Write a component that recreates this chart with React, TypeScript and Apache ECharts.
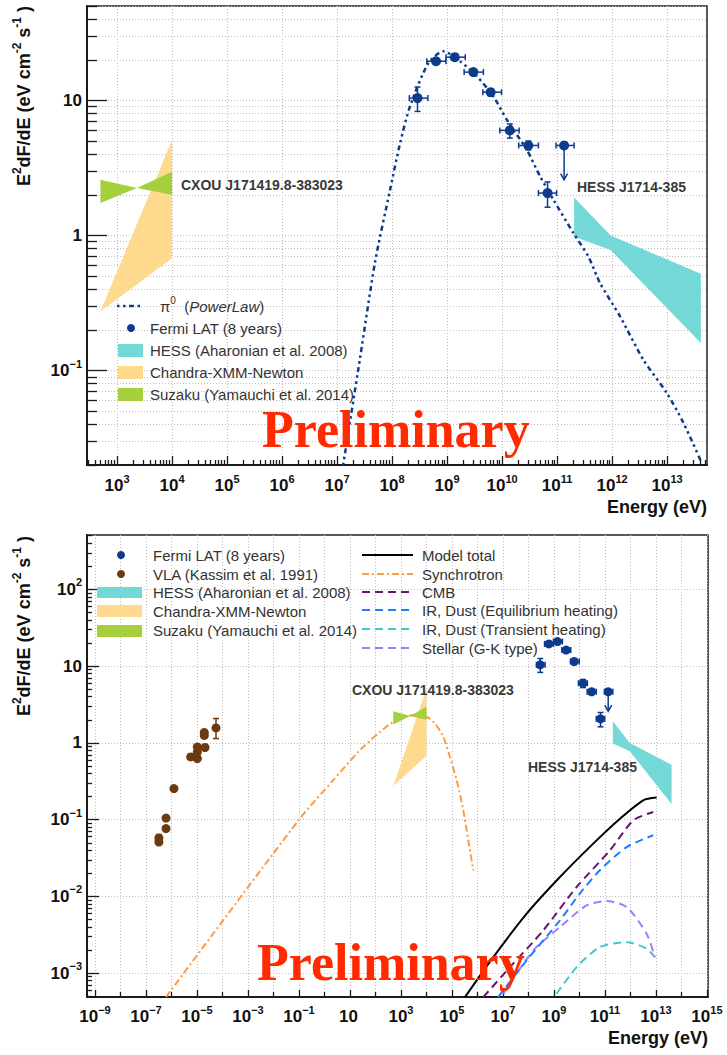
import React, { useEffect, useRef } from 'react';
import * as echarts from 'echarts';

const FONT = '"Liberation Sans", Arial, Helvetica, sans-serif';
const SERIF = '"Liberation Serif", "Times New Roman", serif';

// ---------- axis ranges (E in eV, E^2dF/dE in eV cm^-2 s^-1) ----------
const topXRange = [285, 5.3e13];
const topYRange = [0.02, 50];
const botXRange = [4.85e-10, 1.1e15];
const botYRange = [4.9e-4, 511];

// ---------- tick decades ----------
const topXDecades = [3, 4, 5, 6, 7, 8, 9, 10, 11, 12, 13];
const topXMinorDecades = [2, 3, 4, 5, 6, 7, 8, 9, 10, 11, 12, 13];
const topYDecades = [-1, 0, 1];
const topYMinorDecades = [-2, -1, 0, 1];
const botXLabelDecades = [-9, -7, -5, -3, -1, 1, 3, 5, 7, 9, 11, 13, 15];
const botXOtherDecades = [-8, -6, -4, -2, 0, 2, 4, 6, 8, 10, 12, 14];
const botYDecades = [-3, -2, -1, 0, 1, 2];
const botYMinorDecades = [-4, -3, -2, -1, 0, 1, 2];
const minorMultipliers = [2, 3, 4, 5, 6, 7, 8, 9];

// ---------- Fermi LAT (8 years) ----------
const fermiE = [2.9e8, 6.3e8, 1.38e9, 3.0e9, 6.2e9, 1.38e10, 3.0e10, 6.7e10];
const fermiF = [10.4, 19.5, 20.9, 16.2, 11.5, 6.0, 4.64, 2.06];
const fermiElo = [2.06e8, 4.27e8, 9.55e8, 2.04e9, 4.47e9, 9.1e9, 2.0e10, 4.57e10];
const fermiEhi = [4.47e8, 9.55e8, 2.14e9, 4.57e9, 9.77e9, 2.04e10, 4.57e10, 9.77e10];
const fermiFlo = [8.29, 18.6, 20.0, 15.4, 10.8, 5.26, 4.3, 1.62];
const fermiFhi = [12.56, 20.4, 21.8, 17.0, 12.2, 6.7, 5.0, 2.49];
// upper limit
const ulE = [1.34e11];
const ulElo = [9.55e10];
const ulEhi = [2.04e11];
const ulF = [4.64];
const ulArrowTo = [2.59];

// ---------- pi0 (PowerLaw) model ----------
const pionE = [1.29e7, 2.62e7, 4.91e7, 9.2e7, 1.4e8, 2.12e8, 4.57e8, 8.57e8, 1.72e9, 3.47e9, 6.95e9, 1.22e10,
  2.81e10, 4.9e10, 8.57e10, 1.98e11, 3.7e11, 6.03e11, 1.4e12, 3.7e12, 9.9e12, 1.98e13, 4.27e13];
const pionF = [0.02, 0.124, 0.638, 2.18, 4.83, 9.04, 18.9, 23.1, 19.5, 15.1, 10.7, 7.19,
  4.31, 2.74, 1.84, 1.04, 0.698, 0.444, 0.251, 0.12, 0.068, 0.041, 0.0206];

// ---------- HESS band ----------
const hessE = [2.04e11, 9.4e11, 4.1e13];
const hessHi = [1.91, 1.0, 0.52];
const hessLo = [0.98, 0.78, 0.16];

// ---------- Chandra-XMM-Newton band (polygon vertices) ----------
const chandraE = [500, 1e4, 1e4];
const chandraF = [0.274, 5.1, 0.68];

// ---------- Suzaku butterfly (polygon vertices) ----------
const suzakuE = [500, 2300, 1e4, 1e4, 2300, 500];
const suzakuF = [2.59, 2.25, 2.96, 2.0, 2.25, 1.74];

// ---------- VLA (Kassim et al. 1991) ----------
const vlaE = [3.2e-7, 3.2e-7, 6.1e-7, 6.1e-7, 1.25e-6, 5.66e-6, 1.03e-5, 1.03e-5, 1.03e-5, 2.06e-5, 1.93e-5, 1.93e-5, 5.56e-5];
const vlaF = [0.0577, 0.0512, 0.105, 0.0766, 0.254, 0.656, 0.627, 0.764, 0.887, 0.871, 1.37, 1.25, 1.57];
const vlaErrE = [5.56e-5, 3.2e-7];
const vlaErrF = [1.57, 0.0577];
const vlaErrLo = [1.14, 0.052];
const vlaErrHi = [2.08, 0.064];

// ---------- leptonic model curves ----------
const syncE = [6.1e-7, 0.1, 2.2, 24.7, 150, 500, 2630, 1.02e4, 2.15e4, 4.56e4, 8.35e4, 1.53e5, 2.77e5, 4.36e5, 6.84e5];
const syncF = [4.9e-4, 0.1, 0.327, 0.805, 1.39, 1.88, 2.3, 2.18, 1.79, 1.2, 0.657, 0.327, 0.133, 0.054, 0.0219];
const totalE = [3.24e5, 4.17e6, 8.5e7, 1.72e9, 3.47e10, 3.87e11, 3.18e12, 1.06e13];
const totalF = [4.88e-4, 1.62e-3, 5.97e-3, 0.0179, 0.0488, 0.103, 0.179, 0.194];
const cmbE = [1.69e6, 1.88e7, 3.8e8, 7.76e9, 1.57e11, 1.29e12, 7.83e12];
const cmbF = [4.88e-4, 1.2e-3, 3.61e-3, 0.0133, 0.0399, 0.098, 0.126];
const irEqE = [6.5e6, 8.5e7, 1.72e9, 1.05e10, 6.3e10, 7.1e11, 7.83e12];
const irEqF = [4.88e-4, 1.47e-3, 4.88e-3, 0.011, 0.0219, 0.044, 0.0627];
const stellarE = [1.03e7, 1.54e8, 1.72e9, 1.91e10, 1.17e11, 7.1e11, 4.3e12, 9.1e12];
const stellarF = [5.4e-4, 1.98e-3, 3.99e-3, 7.65e-3, 8.7e-3, 7.27e-3, 3.27e-3, 1.62e-3];
const irTrE = [1.26e9, 7.76e9, 6.3e10, 7.1e11, 4.3e12, 9.1e12];
const irTrF = [5.4e-4, 1.2e-3, 2.19e-3, 2.54e-3, 2.09e-3, 1.62e-3];

// ---------- colours ----------
const NAVY = '#0e3a8e';
const BROWN = '#6b3a10';
const HESS_C = '#74d9d6';
const CHANDRA_C = '#fdda8e';
const SUZAKU_C = '#a6cf3c';
const ORANGE = '#ff9a45';
const PURPLE = '#64146e';
const BLUE = '#1f7bff';
const CYAN = '#3ccaca';
const VIOLET = '#a47bff';
const AX = '#1a1a1a';
const TXT = '#333333';

const lg = Math.log10;
const minorVals = (decs: number[]) => decs.flatMap((d) => minorMultipliers.map((m) => d + lg(m)));

const sup = (e: number) => (e < 0 ? '\u2212' + -e : String(e));
const fmtLabel = (v: number) => {
  const e = Math.round(v);
  if (e === 0) return '{b|1}';
  if (e === 1) return '{b|10}';
  return '{b|10}{s|' + sup(e) + '}';
};
const fmtLabelX = (v: number) => {
  const e = Math.round(v);
  if (e === 1) return '{b|10}{s|\u00a0}';
  return fmtLabel(v);
};
const RICH = {
  b: { fontSize: 17, fontWeight: 'bold', color: '#111', fontFamily: FONT },
  s: { fontSize: 11, fontWeight: 'bold', color: '#111', fontFamily: FONT, padding: [0, 0, 14, 0] },
};
const GRIDLINE = { color: '#bdbdbd', type: [1, 2], width: 1 };

function axis(o: any) {
  return {
    type: 'value',
    gridIndex: o.grid,
    position: o.pos,
    min: lg(o.range[0]),
    max: lg(o.range[1]),
    axisLine: { show: !!o.line, onZero: false, lineStyle: { color: AX, width: 2 } },
    axisTick: {
      show: true,
      inside: true,
      length: o.tickLen,
      customValues: o.ticks,
      lineStyle: { color: AX, width: 1.3 },
    },
    axisLabel: o.labels
      ? { show: true, customValues: o.labels, formatter: o.fmt, rich: RICH, margin: o.margin }
      : { show: false },
    splitLine: { show: !!o.split, lineStyle: GRIDLINE },
    minorTick: { show: false },
    minorSplitLine: { show: false },
  };
}

function polySeries(ai: number, E: number[], F: number[], color: string, z: number) {
  const verts = E.map((e, i) => [lg(e), lg(F[i])]);
  return {
    type: 'custom',
    xAxisIndex: ai,
    yAxisIndex: ai,
    z,
    silent: true,
    clip: true,
    dimensions: ['x', 'y'],
    encode: { x: 0, y: 1 },
    data: verts,
    renderItem: (params: any, api: any) => {
      if (params.dataIndex !== 0) return { type: 'group', children: [] };
      const pts = verts.map((v) => api.coord(v));
      return { type: 'polygon', shape: { points: pts }, style: { fill: color, stroke: 'none' } };
    },
  };
}

function bandVerts(E: number[], hi: number[], lo: number[]) {
  const e = [...E, ...E.slice().reverse()];
  const f = [...hi, ...lo.slice().reverse()];
  return [e, f];
}

function lineSeries(ai: number, E: number[], F: number[], color: string, width: number, dash: any, z: number) {
  return {
    type: 'line',
    xAxisIndex: ai,
    yAxisIndex: ai,
    z,
    silent: true,
    showSymbol: false,
    symbol: 'none',
    smooth: 0.25,
    clip: true,
    data: E.map((e, i) => [lg(e), lg(F[i])]),
    lineStyle: { color, width, type: dash },
  };
}

function errSeries(ai: number, E: number[], F: number[], Elo: number[], Ehi: number[], Flo: number[], Fhi: number[], color: string, cap: number, z: number) {
  return {
    type: 'custom',
    xAxisIndex: ai,
    yAxisIndex: ai,
    z,
    silent: true,
    clip: true,
    dimensions: ['x', 'y', 'xlo', 'xhi', 'ylo', 'yhi'],
    encode: { x: 0, y: 1 },
    data: E.map((e, i) => [lg(e), lg(F[i]), lg(Elo[i]), lg(Ehi[i]), lg(Flo[i]), lg(Fhi[i])]),
    renderItem: (params: any, api: any) => {
      const c = api.coord([api.value(0), api.value(1)]);
      const xl = api.coord([api.value(2), api.value(1)])[0];
      const xh = api.coord([api.value(3), api.value(1)])[0];
      const yl = api.coord([api.value(0), api.value(4)])[1];
      const yh = api.coord([api.value(0), api.value(5)])[1];
      const st = { stroke: color, lineWidth: 1.5 };
      const ch: any[] = [];
      if (Math.abs(xh - xl) > 0.5) {
        ch.push({ type: 'line', shape: { x1: xl, y1: c[1], x2: xh, y2: c[1] }, style: st });
        ch.push({ type: 'line', shape: { x1: xl, y1: c[1] - cap, x2: xl, y2: c[1] + cap }, style: st });
        ch.push({ type: 'line', shape: { x1: xh, y1: c[1] - cap, x2: xh, y2: c[1] + cap }, style: st });
      }
      if (Math.abs(yh - yl) > 0.5) {
        ch.push({ type: 'line', shape: { x1: c[0], y1: yl, x2: c[0], y2: yh }, style: st });
        ch.push({ type: 'line', shape: { x1: c[0] - cap, y1: yl, x2: c[0] + cap, y2: yl }, style: st });
        ch.push({ type: 'line', shape: { x1: c[0] - cap, y1: yh, x2: c[0] + cap, y2: yh }, style: st });
      }
      return { type: 'group', children: ch };
    },
  };
}

function ulSeries(ai: number, cap: number, z: number) {
  return {
    type: 'custom',
    xAxisIndex: ai,
    yAxisIndex: ai,
    z,
    silent: true,
    clip: true,
    dimensions: ['x', 'y', 'xlo', 'xhi', 'yto'],
    encode: { x: 0, y: 1 },
    data: ulE.map((e, i) => [lg(e), lg(ulF[i]), lg(ulElo[i]), lg(ulEhi[i]), lg(ulArrowTo[i])]),
    renderItem: (params: any, api: any) => {
      const c = api.coord([api.value(0), api.value(1)]);
      const xl = api.coord([api.value(2), api.value(1)])[0];
      const xh = api.coord([api.value(3), api.value(1)])[0];
      const yt = api.coord([api.value(0), api.value(4)])[1];
      const st = { stroke: NAVY, lineWidth: 1.5, fill: 'none' };
      return {
        type: 'group',
        children: [
          { type: 'line', shape: { x1: xl, y1: c[1], x2: xh, y2: c[1] }, style: st },
          { type: 'line', shape: { x1: xl, y1: c[1] - cap, x2: xl, y2: c[1] + cap }, style: st },
          { type: 'line', shape: { x1: xh, y1: c[1] - cap, x2: xh, y2: c[1] + cap }, style: st },
          { type: 'line', shape: { x1: c[0], y1: c[1], x2: c[0], y2: yt }, style: st },
          { type: 'polyline', shape: { points: [[c[0] - 3.5, yt - 6], [c[0], yt], [c[0] + 3.5, yt - 6]] }, style: st },
        ],
      };
    },
  };
}

function scatterSeries(ai: number, E: number[], F: number[], color: string, size: number, z: number) {
  return {
    type: 'scatter',
    xAxisIndex: ai,
    yAxisIndex: ai,
    z,
    silent: true,
    symbol: 'circle',
    symbolSize: size,
    data: E.map((e, i) => [lg(e), lg(F[i])]),
    itemStyle: { color, opacity: 1 },
  };
}

// ---------- graphic helpers ----------
const gText = (x: number, y: number, text: string, extra: any = {}) => ({
  type: 'text',
  x,
  y,
  silent: true,
  z: 100,
  style: {
    text,
    fill: TXT,
    fontSize: 15,
    fontFamily: FONT,
    align: 'left',
    verticalAlign: 'middle',
    ...extra,
  },
});
const gRect = (x: number, y: number, w: number, h: number, fill: string) => ({
  type: 'rect',
  silent: true,
  z: 100,
  shape: { x, y, width: w, height: h },
  style: { fill },
});
const gLine = (x1: number, x2: number, y: number, stroke: string, width: number, dash: any) => ({
  type: 'line',
  silent: true,
  z: 100,
  shape: { x1, y1: y, x2, y2: y },
  style: { stroke, lineWidth: width, lineDash: dash },
});
const gDot = (cx: number, cy: number, r: number, fill: string) => ({
  type: 'circle',
  silent: true,
  z: 100,
  shape: { cx, cy, r },
  style: { fill },
});

const yTitle = (y: number) => ({
  type: 'text',
  x: 24,
  y,
  rotation: Math.PI / 2,
  silent: true,
  z: 100,
  style: {
    text: '{a|E}{s|2}{a|dF/dE (eV cm}{s|-2}{a| s}{s|-1}{a| )}',
    align: 'right',
    verticalAlign: 'middle',
    rich: {
      a: { fontSize: 18, fontWeight: 'bold', fontFamily: FONT, fill: '#111', color: '#111' },
      s: { fontSize: 12, fontWeight: 'bold', fontFamily: FONT, fill: '#111', color: '#111', padding: [0, 0, 14, 0] },
    },
  },
});

const prelim = (x: number, y: number) =>
  gText(x, y, 'Preliminary', { fontSize: 52, fontWeight: 'bold', fontFamily: SERIF, fill: '#ff2a00' });

const DASH = [8, 5];
const DASHDOT = [7, 3, 2, 3];
const PIONDASH = [2.5, 3.5, 2.5, 3.5, 5, 3.5];

function buildOption() {
  const [hE, hF] = bandVerts(hessE, hessHi, hessLo);
  const graphic: any[] = [
    yTitle(6),
    yTitle(536),
    gText(707, 507, 'Energy (eV)', { align: 'right', fontSize: 18, fontWeight: 'bold', fill: '#111' }),
    gText(708, 1038, 'Energy (eV)', { align: 'right', fontSize: 18, fontWeight: 'bold', fill: '#111' }),
    prelim(262, 429),
    prelim(257, 962),
    // annotations
    gText(181, 185, 'CXOU J171419.8-383023', { fontSize: 14, fontWeight: 'bold', fill: '#3a3a3a' }),
    gText(577, 187, 'HESS J1714-385', { fontSize: 14, fontWeight: 'bold', fill: '#3a3a3a' }),
    gText(352, 690, 'CXOU J171419.8-383023', { fontSize: 14, fontWeight: 'bold', fill: '#3a3a3a' }),
    gText(528, 767, 'HESS J1714-385', { fontSize: 14, fontWeight: 'bold', fill: '#3a3a3a' }),
    // top legend
    gLine(117, 142, 306, NAVY, 2.5, PIONDASH),
    gText(160, 306, '{g|\u03c0}{s|0}{g|  (}{i|PowerLaw}{g|)}', {
      rich: {
        g: { fontSize: 15, fontFamily: FONT, fill: TXT, color: TXT },
        i: { fontSize: 15, fontFamily: FONT, fontStyle: 'italic', fill: TXT, color: TXT },
        s: { fontSize: 10, fontFamily: FONT, fill: TXT, color: TXT, padding: [0, 0, 12, 0] },
      },
    }),
    gDot(131, 328, 4, NAVY),
    gText(150, 328, 'Fermi LAT (8 years)'),
    gRect(118, 344, 25, 13, HESS_C),
    gText(150, 350, 'HESS (Aharonian et al. 2008)'),
    gRect(118, 366, 25, 13, CHANDRA_C),
    gText(150, 372, 'Chandra-XMM-Newton'),
    gRect(118, 388, 25, 13, SUZAKU_C),
    gText(150, 394, 'Suzaku (Yamauchi et al. 2014)'),
    // bottom legend, left column
    gDot(121, 555, 4, NAVY),
    gText(153, 555, 'Fermi LAT (8 years)'),
    gDot(121, 574, 4, BROWN),
    gText(153, 574, 'VLA (Kassim et al. 1991)'),
    gRect(97, 587, 45, 11, HESS_C),
    gText(153, 592, 'HESS (Aharonian et al. 2008)'),
    gRect(97, 605, 45, 12, CHANDRA_C),
    gText(153, 611, 'Chandra-XMM-Newton'),
    gRect(97, 625, 45, 12, SUZAKU_C),
    gText(153, 630, 'Suzaku (Yamauchi et al. 2014)'),
    // bottom legend, right column
    gLine(362, 413, 555, '#000', 2, null),
    gText(422, 555, 'Model total'),
    gLine(362, 413, 574, ORANGE, 2, DASHDOT),
    gText(422, 574, 'Synchrotron'),
    gLine(362, 413, 592, PURPLE, 2, DASH),
    gText(422, 592, 'CMB'),
    gLine(362, 413, 610, BLUE, 2, DASH),
    gText(422, 610, 'IR, Dust (Equilibrium heating)'),
    gLine(362, 413, 629, CYAN, 2, DASH),
    gText(422, 629, 'IR, Dust (Transient heating)'),
    gLine(362, 413, 648, VIOLET, 2, DASH),
    gText(422, 648, 'Stellar (G-K type)'),
  ];

  return {
    animation: false,
    backgroundColor: '#ffffff',
    textStyle: { fontFamily: FONT },
    grid: [
      { left: 87, top: 6, width: 620, height: 459, show: true, borderColor: '#222', borderWidth: 1.5, backgroundColor: 'transparent', containLabel: false, outerBoundsMode: 'none' },
      { left: 87, top: 535, width: 621, height: 462, show: true, borderColor: '#222', borderWidth: 1.5, backgroundColor: 'transparent', containLabel: false, outerBoundsMode: 'none' },
    ],
    xAxis: [
      axis({ grid: 0, pos: 'bottom', range: topXRange, line: true, tickLen: 9, ticks: topXDecades, labels: topXDecades, fmt: fmtLabelX, margin: 8, split: true }),
      axis({ grid: 0, pos: 'bottom', range: topXRange, tickLen: 5, ticks: minorVals(topXMinorDecades) }),
      axis({ grid: 1, pos: 'bottom', range: botXRange, line: true, tickLen: 7, ticks: botXLabelDecades, labels: botXLabelDecades, fmt: fmtLabelX, margin: 7, split: true }),
      axis({ grid: 1, pos: 'bottom', range: botXRange, tickLen: 5, ticks: botXOtherDecades, split: true }),
    ],
    yAxis: [
      axis({ grid: 0, pos: 'left', range: topYRange, line: true, tickLen: 20, ticks: topYDecades, labels: topYDecades, fmt: fmtLabel, margin: 5, split: true }),
      axis({ grid: 0, pos: 'left', range: topYRange, tickLen: 10, ticks: minorVals(topYMinorDecades), split: true }),
      axis({ grid: 1, pos: 'left', range: botYRange, line: true, tickLen: 12, ticks: botYDecades, labels: botYDecades, fmt: fmtLabel, margin: 5, split: true }),
      axis({ grid: 1, pos: 'left', range: botYRange, tickLen: 5, ticks: minorVals(botYMinorDecades) }),
    ],
    series: [
      // ----- top panel -----
      polySeries(0, chandraE, chandraF, CHANDRA_C, 2),
      polySeries(0, suzakuE, suzakuF, SUZAKU_C, 3),
      polySeries(0, hE, hF, HESS_C, 3),
      lineSeries(0, pionE, pionF, NAVY, 2.5, PIONDASH, 4),
      errSeries(0, fermiE, fermiF, fermiElo, fermiEhi, fermiFlo, fermiFhi, NAVY, 3, 5),
      ulSeries(0, 3, 5),
      scatterSeries(0, fermiE, fermiF, NAVY, 10, 6),
      scatterSeries(0, ulE, ulF, NAVY, 10, 6),
      // ----- bottom panel -----
      lineSeries(2, syncE, syncF, ORANGE, 2, DASHDOT, 2),
      polySeries(2, chandraE, chandraF, CHANDRA_C, 3),
      polySeries(2, suzakuE, suzakuF, SUZAKU_C, 3),
      polySeries(2, hE, hF, HESS_C, 3),
      lineSeries(2, irTrE, irTrF, CYAN, 2, DASH, 4),
      lineSeries(2, stellarE, stellarF, VIOLET, 2, DASH, 4),
      lineSeries(2, irEqE, irEqF, BLUE, 2, DASH, 4),
      lineSeries(2, cmbE, cmbF, PURPLE, 2, DASH, 4),
      lineSeries(2, totalE, totalF, '#000', 2, 'solid', 4),
      errSeries(2, vlaErrE, vlaErrF, vlaErrE, vlaErrE, vlaErrLo, vlaErrHi, BROWN, 3, 5),
      scatterSeries(2, vlaE, vlaF, BROWN, 9, 6),
      errSeries(2, fermiE, fermiF, fermiElo, fermiEhi, fermiFlo, fermiFhi, NAVY, 3, 5),
      ulSeries(2, 3, 5),
      scatterSeries(2, fermiE, fermiF, NAVY, 9, 6),
      scatterSeries(2, ulE, ulF, NAVY, 9, 6),
    ],
    graphic,
  };
}

export default function App() {
  const ref = useRef<HTMLDivElement>(null);
  useEffect(() => {
    const chart = echarts.init(ref.current as HTMLDivElement, null, { renderer: 'svg' });
    chart.setOption(buildOption() as any);
    return () => chart.dispose();
  }, []);
  return (
    <div
      ref={ref}
      style={{ position: 'absolute', left: 0, top: 0, width: 727, height: 1055, background: '#fff' }}
    />
  );
}
